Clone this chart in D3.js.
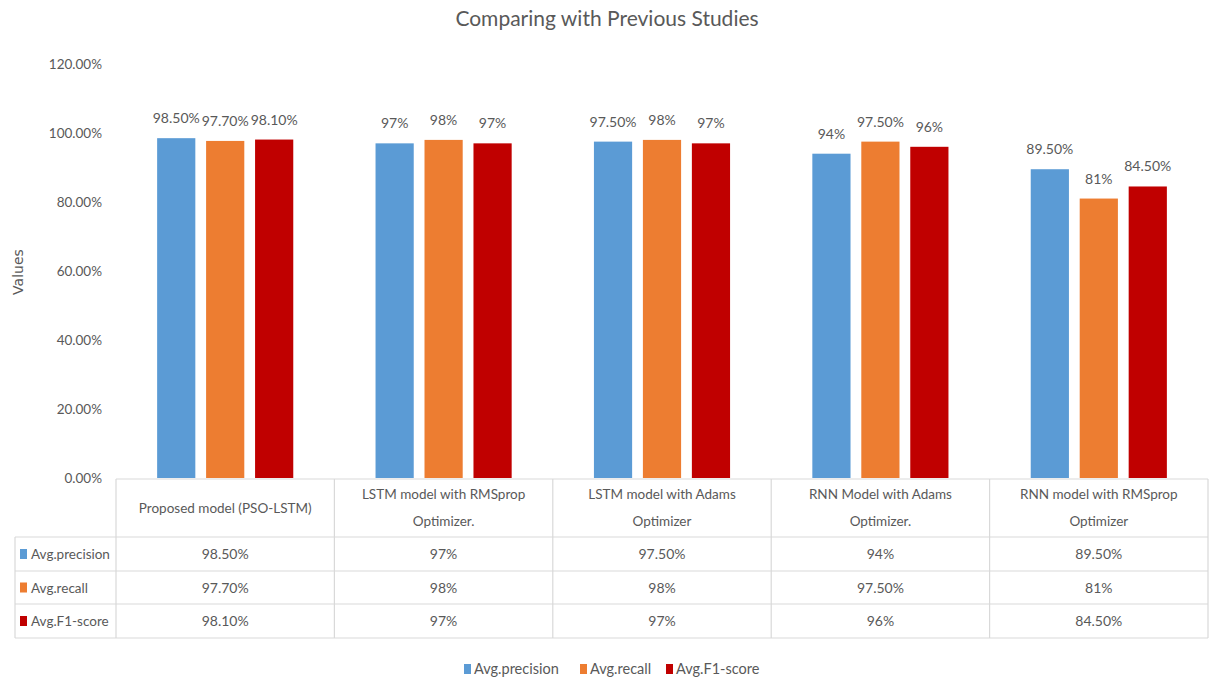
<!DOCTYPE html>
<html><head><meta charset="utf-8">
<script src="https://cdn.jsdelivr.net/npm/d3@7"></script>
<style>
body{margin:0;background:#fff;}
svg text{font-family:"Liberation Sans Narrow","Arial Narrow",Lato,sans-serif;fill:#595959;}
</style></head>
<body><svg id="c" width="1209" height="681"></svg>
<script>
const categories = ["Proposed model (PSO-LSTM)","LSTM model with RMSprop Optimizer.","LSTM model with Adams Optimizer","RNN Model with Adams Optimizer.","RNN model with RMSprop Optimizer"];
const categoryLines = [["Proposed model (PSO-LSTM)"],["LSTM model with RMSprop","Optimizer."],["LSTM model with Adams","Optimizer"],["RNN Model with Adams","Optimizer."],["RNN model with RMSprop","Optimizer"]];
const seriesNames = ["Avg.precision","Avg.recall","Avg.F1-score"];
const precision = [0.985,0.97,0.975,0.94,0.895];
const recall = [0.977,0.98,0.98,0.975,0.81];
const f1 = [0.981,0.97,0.97,0.96,0.845];
const precisionLabels = ["98.50%","97%","97.50%","94%","89.50%"];
const recallLabels = ["97.70%","98%","98%","97.50%","81%"];
const f1Labels = ["98.10%","97%","97%","96%","84.50%"];
const colors = ["#5b9bd5","#ed7d31","#c00000"];
const yTicks = [0,0.2,0.4,0.6,0.8,1.0,1.2];

const series = [precision,recall,f1];
const labels = [precisionLabels,recallLabels,f1Labels];
const svg = d3.select("#c");

const plotLeft=116, plotRight=1208, plotTop=64, plotBottom=478;
const x = d3.scaleBand().domain(categories).range([plotLeft,plotRight]);
const y = d3.scaleLinear().domain([0,1.2]).range([plotBottom,plotTop]);
const inner = d3.scaleBand().domain(seriesNames).range([0,x.bandwidth()]).paddingInner(0.22).paddingOuter(0.84);

// title
svg.append("text").attr("x",607).attr("y",26).attr("text-anchor","middle").style("font-size","21px").text("Comparing with Previous Studies");

// y axis labels
const yAxis = d3.axisLeft(y).tickValues(yTicks).tickFormat(d=>(d*100).toFixed(2)+"%").tickSize(0).tickPadding(0);
const ga = svg.append("g").attr("transform","translate(102,0)").call(yAxis);
ga.select(".domain").remove();
ga.selectAll("text").attr("dy","0.32em").style("font-size","13.5px").style("fill","#595959").style("font-family",'"Liberation Sans Narrow",Lato,sans-serif');

svg.append("text").attr("transform","translate(23,272) rotate(-90)").attr("text-anchor","middle")
  .style("font-family","'DejaVu Sans',Verdana,sans-serif").style("font-size","14px").text("Values");

// bars
seriesNames.forEach((s,si)=>{
  const g = svg.append("g");
  g.selectAll("rect").data(series[si]).join("rect")
    .attr("x",(d,i)=>x(categories[i])+inner(s))
    .attr("width",inner.bandwidth())
    .attr("y",d=>y(d)).attr("height",d=>plotBottom-y(d))
    .attr("fill",colors[si]);
  g.selectAll("text").data(series[si]).join("text")
    .attr("x",(d,i)=>x(categories[i])+inner(s)+inner.bandwidth()/2)
    .attr("y",d=>y(d)-15).attr("text-anchor","middle").style("font-size","14px")
    .text((d,i)=>labels[si][i]);
});

// table
const rowTop=479, rowYs=[537,571,604,638];
const lc="#d9d9d9";
const tl = svg.append("g").attr("stroke",lc).attr("stroke-width",1.2);
tl.append("line").attr("x1",plotLeft).attr("x2",plotRight).attr("y1",rowTop).attr("y2",rowTop);
rowYs.forEach(yy=>tl.append("line").attr("x1",15).attr("x2",plotRight).attr("y1",yy).attr("y2",yy));
tl.append("line").attr("x1",15).attr("x2",15).attr("y1",rowYs[0]).attr("y2",rowYs[3]);
categories.forEach(c=>tl.append("line").attr("x1",x(c)).attr("x2",x(c)).attr("y1",rowTop).attr("y2",rowYs[3]));
tl.append("line").attr("x1",plotRight).attr("x2",plotRight).attr("y1",rowTop).attr("y2",rowYs[3]);

categories.forEach((c,i)=>{
  const lines=categoryLines[i];
  const cx=x(c)+x.bandwidth()/2;
  lines.forEach((t,k)=>{
    const yy = lines.length===1 ? 513 : 499+k*27;
    svg.append("text").attr("x",cx).attr("y",yy).attr("text-anchor","middle").style("font-size","13.5px").text(t);
  });
});
seriesNames.forEach((s,si)=>{
  const yc=(rowYs[si]+rowYs[si+1])/2;
  svg.append("rect").attr("x",20).attr("y",yc-5).attr("width",7).attr("height",10).attr("fill",colors[si]);
  svg.append("text").attr("x",31).attr("y",yc+5).style("font-size","13.5px").text(s);
  categories.forEach((c,i)=>{
    svg.append("text").attr("x",x(c)+x.bandwidth()/2).attr("y",yc+5).attr("text-anchor","middle").style("font-size","14px").text(labels[si][i]);
  });
});

// legend
const legX=[464,580,666];
seriesNames.forEach((s,si)=>{
  svg.append("rect").attr("x",legX[si]).attr("y",664).attr("width",7).attr("height",10).attr("fill",colors[si]);
  svg.append("text").attr("x",legX[si]+10).attr("y",674).style("font-size","14.5px").text(s);
});
</script></body></html>
